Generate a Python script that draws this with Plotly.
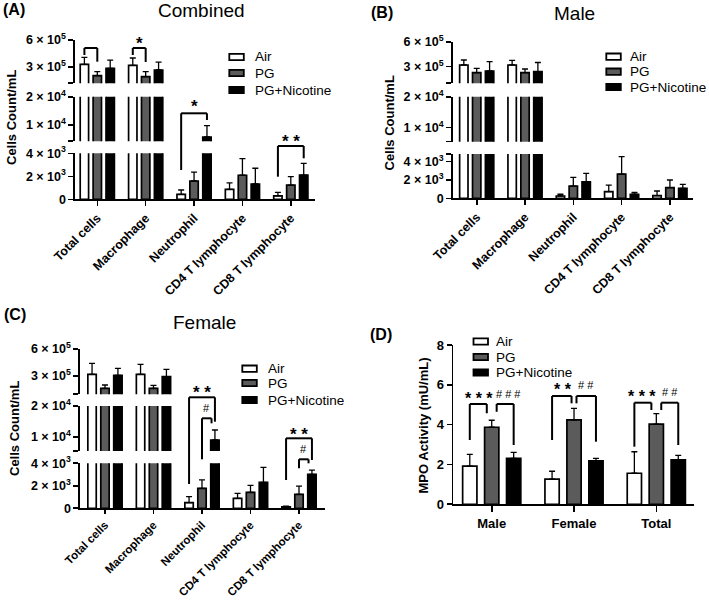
import plotly.graph_objects as go

W, H = 709, 600
FONT = "Liberation Sans, Arial, sans-serif"

def px(x):
    return x / W

def py(y):
    return 1 - y / H

# ---------------- data ----------------
categories = ["Total cells", "Macrophage", "Neutrophil", "CD4 T lymphocyte", "CD8 T lymphocyte"]
groups = ["Air", "PG", "PG+Nicotine"]

# (A) Combined
comb_air = [327000, 316000, 430, 870, 290]
comb_air_err = [78000, 82000, 380, 550, 320]
comb_pg = [199000, 188000, 1590, 2090, 1240]
comb_pg_err = [45000, 56000, 780, 1440, 730]
comb_nic = [282000, 263000, 5760, 1330, 2110]
comb_nic_err = [93000, 89000, 3990, 1370, 1020]

# (B) Male
male_air = [320000, 320000, 250, 720, 290]
male_air_err = [60000, 55000, 190, 730, 510]
male_pg = [228000, 228000, 1340, 2650, 1160]
male_pg_err = [52000, 44000, 950, 1900, 840]
male_nic = [248000, 240000, 1810, 440, 1090]
male_nic_err = [112000, 110000, 920, 210, 440]

# (C) Female
fem_air = [319000, 319000, 500, 890, 140]
fem_air_err = [121000, 111000, 530, 440, 60]
fem_pg = [163000, 163000, 1780, 1420, 1240]
fem_pg_err = [37000, 33000, 740, 620, 740]
fem_nic = [308000, 293000, 8930, 2310, 3020]
fem_nic_err = [77000, 81000, 3250, 1330, 380]

# (D) MPO activity
mpo_groups = ["Male", "Female", "Total"]
mpo_air = [1.92, 1.26, 1.56]
mpo_air_err = [0.59, 0.40, 1.08]
mpo_pg = [3.87, 4.24, 4.03]
mpo_pg_err = [0.35, 0.58, 0.52]
mpo_nic = [2.31, 2.18, 2.23]
mpo_nic_err = [0.30, 0.13, 0.23]

fills = {"Air": "white", "PG": "#5b5b5b", "PG+Nicotine": "black"}

def sci(m, e):
    return f"{m} × 10<sup>{e}</sup>"

fig = go.Figure()
layout = dict(
    width=W, height=H, margin=dict(l=0, r=0, t=0, b=0),
    paper_bgcolor="white", plot_bgcolor="white",
    showlegend=False, barmode="group", bargap=0.2, bargroupgap=0.35,
    font=dict(family=FONT, color="black"),
)

AX_LW = 1.6

def yaxis_def(xname, dom_px, rng, tickvals, ticktext, fs=12.5):
    return dict(
        domain=[py(dom_px[1]), py(dom_px[0])], range=rng, anchor=xname,
        showline=True, linecolor="black", linewidth=AX_LW,
        ticks="outside", ticklen=5, tickwidth=AX_LW, tickcolor="black",
        tickvals=tickvals, ticktext=ticktext, showgrid=False, zeroline=False,
        tickfont=dict(family=FONT, size=fs, color="black", weight="bold"),
        automargin=False,
    )

def xaxis_def(yname, dom_px, rng, angle, fs=12.5, ticklen=5):
    return dict(
        domain=[px(dom_px[0]), px(dom_px[1])], range=rng, anchor=yname,
        type="category", showline=True, linecolor="black", linewidth=AX_LW,
        ticks="outside", ticklen=ticklen, tickwidth=AX_LW, tickcolor="black",
        tickangle=angle, showgrid=False, zeroline=False,
        tickfont=dict(family=FONT, size=fs, color="black", weight="bold"),
        automargin=False,
    )

def add_bars(xname, yname, cats, series):
    for name, vals, errs in series:
        fig.add_trace(go.Bar(
            x=cats, y=vals, name=name, xaxis=xname, yaxis=yname,
            marker=dict(color=fills[name], line=dict(color="black", width=1.7)),
            error_y=dict(type="data", array=errs, arrayminus=[0] * len(errs),
                         symmetric=False, color="black", thickness=1.3, width=3),
            hoverinfo="skip",
        ))

# ---------- broken-axis panels ----------
panels = [
    dict(x="x", xdom=(75, 315), xr=[-0.461, 4.5],
         segs=[("y", (153.3, 199.3), [0, 4000], [0, 2000, 4000], ["0", sci(2, 3), sci(4, 3)]),
               ("y2", (96.7, 141.3), [4240, 20000], [4300, 10000, 20000], ["", sci(1, 4), sci(2, 4)]),
               ("y3", (40, 83.3), [113500, 600000], [115000, 300000, 600000], ["", sci(3, 5), sci(6, 5)])],
         series=[("Air", comb_air, comb_air_err), ("PG", comb_pg, comb_pg_err), ("PG+Nicotine", comb_nic, comb_nic_err)]),
    dict(x="x2", xdom=(452.7, 693.3), xr=[-0.497, 4.484],
         segs=[("y4", (154, 198.3), [0, 4840], [0, 2000, 4000, 4830], ["0", sci(2, 3), sci(4, 3), ""]),
               ("y5", (96.7, 141.7), [5480, 20000], [5550, 10000, 20000], ["", sci(1, 4), sci(2, 4)]),
               ("y6", (41.7, 83.3), [100000, 600000], [102000, 300000, 600000], ["", sci(3, 5), sci(6, 5)])],
         series=[("Air", male_air, male_air_err), ("PG", male_pg, male_pg_err), ("PG+Nicotine", male_nic, male_nic_err)]),
    dict(x="x3", xdom=(80, 325), xr=[-0.515, 4.536],
         segs=[("y7", (463.3, 508.3), [0, 4000], [0, 2000, 4000], ["0", sci(2, 3), sci(4, 3)]),
               ("y8", (406, 451), [5340, 20000], [5400, 10000, 20000], ["", sci(1, 4), sci(2, 4)]),
               ("y9", (349, 394.3), [96700, 600000], [99000, 300000, 600000], ["", sci(3, 5), sci(6, 5)])],
         series=[("Air", fem_air, fem_air_err), ("PG", fem_pg, fem_pg_err), ("PG+Nicotine", fem_nic, fem_nic_err)]),
]

for i, p in enumerate(panels):
    xkey = "xaxis" + p["x"][1:]
    fs = 11.5 if i == 2 else 12.5
    layout[xkey] = xaxis_def(p["segs"][0][0], p["xdom"], p["xr"], -45, fs=fs, ticklen=5 if i < 2 else 4)
    for yname, dom, rng, tv, tt in p["segs"]:
        ykey = "yaxis" + yname[1:]
        layout[ykey] = yaxis_def(p["x"], dom, rng, tv, tt)
        add_bars(p["x"], yname, categories, p["series"])

# ---------- panel D ----------
layout["xaxis4"] = xaxis_def("y10", (453.3, 694), [-0.467, 2.458], 0, fs=13, ticklen=6)
layout["yaxis10"] = yaxis_def("x4", (345, 504.3), [0, 8], [0, 2, 4, 6, 8], ["0", "2", "4", "6", "8"], fs=13)
add_bars("x4", "y10", mpo_groups,
         [("Air", mpo_air, mpo_air_err), ("PG", mpo_pg, mpo_pg_err), ("PG+Nicotine", mpo_nic, mpo_nic_err)])

shapes = []
annotations = []

def text(x, y, s, size, bold=False, xanchor="center", yanchor="middle", angle=0, xref="paper"):
    annotations.append(dict(
        x=x, y=y, xref=xref, yref="paper", text=s, showarrow=False,
        xanchor=xanchor, yanchor=yanchor, textangle=angle,
        font=dict(family=FONT, size=size, color="black", weight="bold" if bold else "normal"),
    ))

# panel labels & titles
text(px(1), py(9.5), "(A)", 16, bold=True, xanchor="left")
text(px(369), py(12.5), "(B)", 16, bold=True, xanchor="left")
text(px(2), py(314), "(C)", 16, bold=True, xanchor="left")
text(px(368), py(334), "(D)", 16, bold=True, xanchor="left")
text(px(201.7), py(10), "Combined", 19)
text(px(574), py(13), "Male", 19)
text(px(204), py(322), "Female", 19)

# y-axis titles
text(px(11), py(118), "Cells Count/mL", 13, bold=True, angle=-90)
text(px(389.5), py(123), "Cells Count/mL", 13, bold=True, angle=-90)
text(px(14), py(429), "Cells Count/mL", 13, bold=True, angle=-90)
text(px(423), py(425.5), "MPO Activity (mU/mL)", 13, bold=True, angle=-90)

# legends
def legend(xbox, rows, xtext):
    for name, yc in zip(groups, rows):
        shapes.append(dict(type="rect", xref="paper", yref="paper",
                           x0=px(xbox), x1=px(xbox + 14.5), y0=py(yc + 3.2), y1=py(yc - 3.2),
                           fillcolor=fills[name], line=dict(color="black", width=1.8)))
        text(px(xtext), py(yc), name, 13.5, xanchor="left")

legend(229.3, [57, 73, 90], 253)
legend(606.3, [56.7, 71.7, 87], 628)
legend(242.3, [368.7, 383, 400], 265.5)
legend(473.5, [341.5, 357, 372.5], 494)

# significance brackets
S = 0.8 / 3

def bracket(xref, x0, x1, ytop, yl, yr, label=None, ylab=None, xlab=None, fs=17):
    for (a, b, c, d) in [(x0, yl, x0, ytop), (x0, ytop, x1, ytop), (x1, ytop, x1, yr)]:
        shapes.append(dict(type="line", xref=xref, yref="paper",
                           x0=a, x1=c, y0=py(b), y1=py(d),
                           line=dict(color="black", width=2)))
    if label:
        xl = (x0 + x1) / 2 if xlab is None else xlab
        star = "*" in label
        off = 0.27 * fs if star else 0.0
        annotations.append(dict(x=xl, y=py(ylab + off), xref=xref, yref="paper", text=label,
                                showarrow=False, xanchor="center", yanchor="middle",
                                font=dict(family=FONT, size=fs, color="black",
                                          weight="bold" if star else "normal")))

# A
bracket("x", 0 - S, 0, 48, 55, 61.7)
bracket("x", 1 - S, 1, 48, 55, 62, "*", 39.3)
bracket("x", 2 - S, 2 + S, 113.3, 170, 120, "*", 101.7)
bracket("x", 4 - S, 4 + S, 146, 176.7, 158.3, "* *", 136.7)
# C
bracket("x3", 2 - S, 2 + S, 397.3, 484, 421.7, "* *", 388.3)
bracket("x3", 2, 2 + S - 0.07, 418.3, 459.3, 423.3, "#", 408.3, fs=11)
bracket("x3", 4 - S, 4 + S, 438.3, 480, 460, "* *", 430)
bracket("x3", 4, 4 + S - 0.07, 459.3, 468.3, 463.3, "#", 449.3, fs=11)
# D
bracket("x4", 0 - S, 0 - 0.06, 404, 440, 413.3, "* * *", 394.3, -0.15, fs=16)
bracket("x4", 0 + 0.06, 0 + S, 404, 411.7, 445, "# # #", 394.3, 0.2, fs=11)
bracket("x4", 1 - S, 1 - 0.03, 396, 440, 403.3, "* *", 385, 0.87, fs=16)
bracket("x4", 1 + 0.03, 1 + S, 396, 403.3, 441.7, "# #", 385, 1.14, fs=11)
bracket("x4", 2 - S, 2 - 0.06, 402.7, 446.7, 410, "* * *", 392.3, 1.82, fs=16)
bracket("x4", 2 + 0.06, 2 + S, 402.7, 410, 445, "# #", 392.3, 2.17, fs=11)

layout["shapes"] = shapes
layout["annotations"] = annotations
fig.update_layout(**layout)
fig.write_html("out.html", config={"displayModeBar": False, "staticPlot": True},
               post_script="document.body.style.margin='0';document.body.style.padding='0';")
